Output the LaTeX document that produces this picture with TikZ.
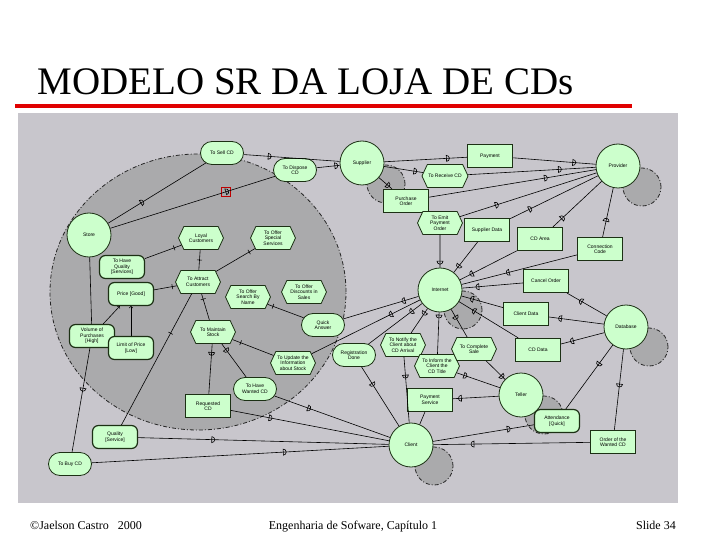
\documentclass[tikz,border=0pt]{standalone}
\usepackage{fontspec}
\setmainfont{Liberation Serif}
\newfontfamily\diagfont{Liberation Sans}
\newfontfamily\slidefont{Liberation Serif}
\usetikzlibrary{shapes.misc,shapes.symbols,decorations.markings}
\definecolor{nodefill}{RGB}{204,255,204}
\definecolor{nodeline}{RGB}{28,48,20}
\definecolor{panelgray}{RGB}{200,198,204}
\definecolor{bndgray}{RGB}{170,170,172}
\definecolor{titlered}{RGB}{224,0,0}
\tikzset{
  elem/.style={draw=nodeline, fill=nodefill, minimum width=45pt, minimum height=23pt, inner sep=1pt, align=center, font=\diagfont\fontsize{5}{5.5}\selectfont},
  actor/.style={elem, circle, thick, minimum size=44pt, inner sep=0pt},
  bndline/.style={draw=black!85, thick, dash pattern=on 4pt off 2pt on 1pt off 2pt, fill=bndgray},
  bound/.style={circle, bndline, minimum size=38pt},
  goal/.style={elem, rounded rectangle, thick},
  task/.style={elem, signal, signal to=east and west, signal pointer angle=130, thick},
  resrc/.style={elem, rectangle, very thick},
  softg/.style={elem, rectangle, rounded corners=6pt, very thick},
  link/.style={draw=black, line width=0.6pt},
  dep/.style={postaction={decorate, decoration={markings, mark=at position #1 with {\draw[line width=0.6pt] (-1.5pt,-3pt) -- (-1.5pt,3pt) arc[start angle=90, end angle=-90, radius=3pt] -- cycle;}}}},
  tick/.style={postaction={decorate, decoration={markings, mark=at position #1 with {\draw[line width=0.6pt] (0pt,-2.5pt) -- (0pt,2.5pt);}}}},
  foot/.style={inner sep=0pt, font=\slidefont\fontsize{12}{12}\selectfont},
}
\begin{document}
\begin{tikzpicture}[x=1pt, y=-1pt]
\useasboundingbox (0,0) rectangle (720,540);
% title, panel
\node[anchor=base west, inner sep=0pt, scale=3.25, font=\slidefont\fontsize{12}{12}\selectfont] (title) at (37,95) {MODELO SR DA LOJA DE CDs};
\draw[titlered, line width=4pt] (15,106) -- (632,106);
\fill[panelgray] (18,113) rectangle (678,503);
% actor boundaries
\draw[bndline] (198,292) ellipse [x radius=148pt, y radius=138pt];
\node[bound] (supbnd) at (386,184) {};
\node[bound] (provbnd) at (642,187) {};
\node[bound] (netbnd) at (463,310) {};
\node[bound] (dbbnd) at (649,347) {};
\node[bound] (clibnd) at (434,466) {};
\node[bound] (tellbnd) at (544,415) {};
% actors and elements
\node[actor] (store) at (89,235) {Store};
\node[goal] (sell) at (222,153) {To Sell CD};
\node[goal] (dispose) at (295,170) {To Dispose\\CD};
\node[actor] (supplier) at (362,163) {Supplier};
\node[task] (receive) at (445,176) {To Receive CD};
\node[resrc] (purchase) at (406,201) {Purchase\\Order};
\node[task] (emit) at (440,223) {To Emit\\Payment\\Order};
\node[resrc] (payment) at (490,156) {Payment};
\node[actor] (provider) at (618,166) {Provider};
\node[resrc] (supdata) at (487,230) {Supplier Data};
\node[resrc] (cdarea) at (540,239) {CD Area};
\node[resrc] (conncode) at (600,249) {Connection\\Code};
\node[task] (loyal) at (201,238) {Loyal\\Customers};
\node[task] (special) at (273,238) {To Offer\\Special\\Services};
\node[softg] (havequal) at (122,267) {To Have\\Quality\\{[Services]}};
\node[softg] (price) at (131,294) {Price [Good]};
\node[task] (attract) at (198,282) {To Attract\\Customers};
\node[task] (search) at (248,297) {To Offer\\Search By\\Name};
\node[task] (discount) at (304,292) {To Offer\\Discounts in\\Sales};
\node[softg] (volume) at (92,336) {Volume of\\Purchases\\{[High]}};
\node[softg] (limit) at (131,348) {Limit of Price\\{[Low]}};
\node[task] (maintain) at (213,332) {To Maintain\\Stock};
\node[goal] (quick) at (323,325) {Quick\\Answer};
\node[actor] (internet) at (440,290) {Internet};
\node[goal] (regist) at (354,355) {Registration\\Done};
\node[task] (notify) at (403,345) {To Notify the\\Client about\\CD Arrival};
\node[task] (update) at (293,363) {To Update the\\Information\\about Stock};
\node[task] (inform) at (437,366) {To Inform the\\Client the\\CD Title};
\node[task] (complete) at (474,349) {To Complete\\Sale};
\node[resrc] (cancel) at (546,281) {Cancel Order};
\node[resrc] (clientdata) at (526,314) {Client Data};
\node[resrc] (cddata) at (538,350) {CD Data};
\node[actor] (database) at (626,327) {Database};
\node[goal] (wanted) at (255,389) {To Have\\Wanted CD};
\node[resrc] (requested) at (208,406) {Requested\\CD};
\node[softg] (qualsvc) at (115,437) {Quality\\{[Service]}};
\node[goal] (buy) at (70,464) {To Buy CD};
\node[resrc] (payserv) at (430,400) {Payment\\Service};
\node[actor] (client) at (411,445) {Client};
\node[actor] (teller) at (521,395) {Teller};
\node[softg] (attend) at (557,421) {Attendance\\{[Quick]}};
\node[resrc] (order) at (613,442) {Order of the\\Wanted CD};
\node[draw=red!75!black, minimum size=9pt, inner sep=0pt] (redmark) at (226,192) {};
% dependencies
\draw[link, dep=0.35] (store) -- (sell);
\draw[link, dep=0.27] (sell) -- (supplier);
\draw[link, dep=0.71] (store) -- (dispose);
\draw[link, dep=0.85] (dispose) -- (supplier);
\draw[link, dep=0.77] (supplier) -- (payment);
\draw[link, dep=0.8] (supplier) -- (receive);
\draw[link, dep=0.7] (supplier) -- (purchase);
\draw[link, dep=0.74] (payment) -- (provider);
\draw[link, dep=0.72] (receive) -- (provider);
\draw[link, dep=0.7] (purchase) -- (provider);
\draw[link, dep=0.27] (emit) -- (provider);
\draw[link, dep=0.23] (supdata) -- (provider);
\draw[link, dep=0.2] (cdarea) -- (provider);
\draw[link, dep=0.35] (conncode) -- (provider);
\draw[link, dep=0.85] (emit) -- (internet);
\draw[link, dep=0.8] (supdata) -- (internet);
\draw[link, dep=0.8] (cdarea) -- (internet);
\draw[link, dep=0.6] (conncode) -- (internet);
\draw[link, dep=0.75] (cancel) -- (internet);
\draw[link, dep=0.75] (clientdata) -- (internet);
\draw[link, dep=0.75] (cddata) -- (internet);
\draw[link, dep=0.65] (database) -- (cancel);
\draw[link, dep=0.8] (database) -- (clientdata);
\draw[link, dep=0.75] (database) -- (cddata);
\draw[link, dep=0.3] (database) -- (attend);
\draw[link, dep=0.45] (database) -- (order);
\draw[link, dep=0.3] (internet) -- (complete);
\draw[link, dep=0.2] (internet) -- (notify);
\draw[link, dep=0.1] (internet) -- (inform);
\draw[link, dep=0.2] (internet) -- (regist);
\draw[link, dep=0.27] (internet) -- (update);
\draw[link, dep=0.2] (internet) -- (quick);
\draw[link, dep=0.3] (regist) -- (client);
\draw[link, dep=0.3] (notify) -- (client);
\draw[link] (payserv) -- (client);
\draw[link, dep=0.85] (teller) -- (payserv);
\draw[link, dep=0.2] (inform) -- (teller);
\draw[link, dep=0.85] (complete) -- (teller);
\draw[link, dep=0.75] (client) -- (attend);
\draw[link, dep=0.75] (order) -- (client);
\draw[link, dep=0.25] (requested) -- (client);
\draw[link, dep=0.3] (wanted) -- (client);
\draw[link, dep=0.3] (qualsvc) -- (client);
\draw[link, dep=0.65] (buy) -- (client);
\draw[link, dep=0.4] (volume) -- (buy);
\draw[link, dep=0.2] (maintain) -- (requested);
\draw[link, dep=0.2] (maintain) -- (wanted);
% links inside the store
\draw[link] (store) -- (volume);
\draw[link, ->] (volume) -- (price);
\draw[link, ->] (limit) -- (price);
\draw[link, tick=0.8] (price) -- (attract);
\draw[link, tick=0.8] (havequal) -- (loyal);
\draw[link, tick=0.5] (loyal) -- (attract);
\draw[link, tick=0.15] (special) -- (attract);
\draw[link, tick=0.15] (search) -- (quick);
\draw[link, tick=0.3] (attract) -- (qualsvc);
\draw[link, tick=0.8] (maintain) -- (attract);
\draw[link, tick=0.2] (maintain) -- (update);
% footer
\node[foot, anchor=base west] (author) at (30,529) {\textcopyright Jaelson Castro\ \ \ 2000};
\node[foot, anchor=base] (book) at (353,529) {Engenharia de Sofware, Capítulo 1};
\node[foot, anchor=base east] (slide) at (676,529) {Slide 34};
\end{tikzpicture}
\end{document}
